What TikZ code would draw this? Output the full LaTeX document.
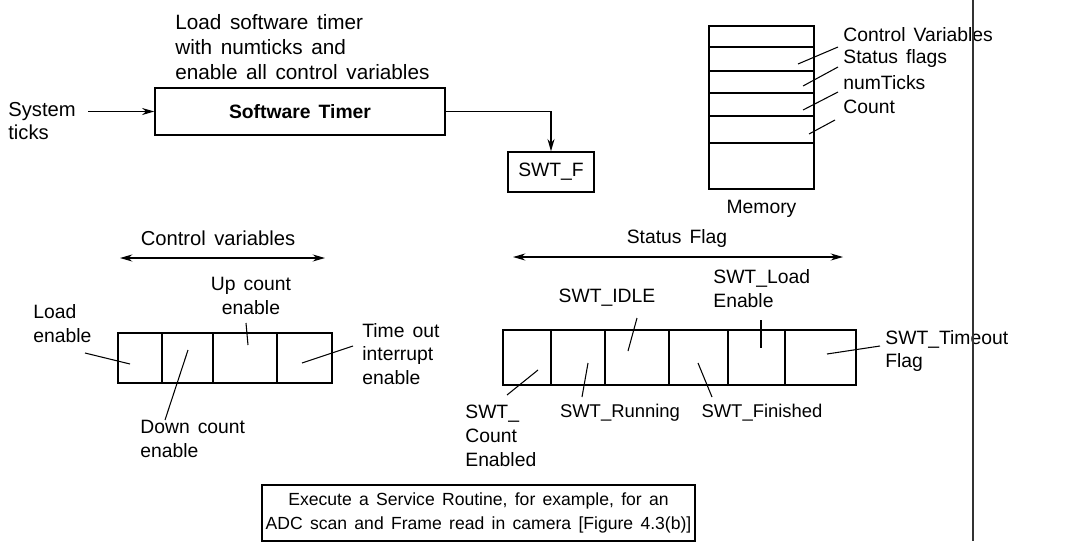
\documentclass[tikz,border=0pt]{standalone}
\usepackage{fontspec}
\setmainfont{Liberation Sans}[WordSpace=1.5]
\usetikzlibrary{arrows.meta, positioning, fit, calc}

\begin{document}
\begin{tikzpicture}[
    x=0.02cm, y=-0.02cm,
    txt/.style={font=\fontsize{11}{13.6}\selectfont, inner sep=0pt},
    lft/.style={txt, align=left, anchor=west},
    ctr/.style={txt, align=center},
    box/.style={draw, line width=0.8pt, inner sep=0pt, font=\fontsize{11}{13.6}\selectfont, align=center},
    cell/.style={draw, line width=0.8pt, inner sep=0pt, fit={#1}},
    lead/.style={line width=0.6pt},
    arr/.style={-{Stealth[length=7pt, width=4pt]}, line width=0.7pt},
    span/.style={{Stealth[length=7pt, width=4pt]}-{Stealth[length=7pt, width=4pt]}, line width=0.7pt},
]
\useasboundingbox (0,0) rectangle (1077,541);

% --- Software timer ---
\node[lft, font=\fontsize{11.8}{14.2}\selectfont] (load) at (175,47) {Load software timer\\with numticks and\\enable all control variables};
\node[box, minimum width=5.8cm, minimum height=0.94cm] (timer) at (300,111.5) {\fontsize{11}{13}\selectfont\bfseries Software Timer};
\node[lft, font=\fontsize{11.5}{12.8}\selectfont] (sys) at (8,121) {System\\ticks};
\coordinate (tickin) at (88,111.5);
\draw[arr] (tickin) -- (timer.west);
\node[box, minimum width=1.72cm, minimum height=0.8cm] (swtf) at (551,172) {SWT\_F};
\draw[arr] (timer.east) -| (swtf.north);

% --- Memory ---
\node[box, minimum width=2.1cm, minimum height=3.26cm] (mem) at (761.5,107.5) {};
\foreach \y in {47,71,93,116,143}
    \draw[line width=0.8pt] (mem.west |- 0,\y) -- (mem.east |- 0,\y);
\node[txt, below=6pt of mem] (memlbl) {Memory};
\node[lft] (mcv) at (843,35) {Control Variables};
\node[lft] (msf) at (843,59) {Status flags};
\node[lft] (mnt) at (843,83) {numTicks};
\node[lft] (mcnt) at (843,107) {Count};

% --- Control variables ---
\node[ctr, font=\fontsize{11.5}{13.6}\selectfont] (cvlbl) at (218,238) {Control variables};
\coordinate (cvl) at (120,258);
\coordinate (cvr) at (325,258);
\draw[span] (cvl) -- (cvr);
\foreach \a/\b/\n in {118/162/cv1, 162/213/cv2, 213/277/cv3, 277/332/cv4}
    \node[cell={(\a,333) (\b,383)}] (\n) {};
\node[lft] (ld) at (33,323.5) {Load\\enable};
\node[ctr] (up) at (251,296) {Up count\\enable};
\node[lft] (tmo) at (362,354) {Time out\\interrupt\\enable};
\node[lft] (dn) at (140,439) {Down count\\enable};

% --- Status flag ---
\node[ctr] (sflbl) at (677,238) {Status Flag};
\coordinate (sfl) at (513,257);
\coordinate (sfr) at (843,257);
\draw[span] (sfl) -- (sfr);
\foreach \a/\b/\n in {503/551/sf1, 551/605/sf2, 605/669/sf3, 669/728/sf4, 728/785/sf5, 785/856/sf6}
    \node[cell={(\a,330) (\b,385)}] (\n) {};
\node[ctr] (idle) at (607,298) {SWT\_IDLE};
\node[lft] (sload) at (713,289) {SWT\_Load\\Enable};
\node[lft] (stmo) at (885,351) {SWT\_Timeout\\Flag};
\node[lft] (scnt) at (465,436) {SWT\_\\Count\\Enabled};
\node[ctr, font=\fontsize{10.5}{13.6}\selectfont] (srun) at (620,413) {SWT\_Running};
\node[ctr, font=\fontsize{10.5}{13.6}\selectfont] (sfin) at (762,413) {SWT\_Finished};

% leader lines: outer end / inner end
\foreach \n/\ox/\oy/\ix/\iy in {
    mcv/838/47/798/64, msf/838/67/803/86, mnt/838/92/803/110, mcnt/835/120/809/134,
    ld/85/353/130/364, up/246/323/248/345, tmo/353/346/302/363, dn/165/420/188/350,
    idle/637/318/628/351, sload/761/320/761/348, stmo/880/346/827/354,
    scnt/507/395/538/370, srun/582/397/588/363, sfin/712/397/698/363} {
    \coordinate (\n-o) at (\ox,\oy);
    \coordinate (\n-i) at (\ix,\iy);
    \draw[lead] (\n-o) -- (\n-i);
}

% --- Service routine ---
\node[box, minimum width=8.66cm, minimum height=1.12cm, font=\fontsize{10}{13.6}\selectfont] (isr) at (478.5,513) {Execute a Service Routine, for example, for an\\ADC scan and Frame read in camera [Figure 4.3(b)]};

% page edge
\coordinate (edgetop) at (973,0);
\coordinate (edgebot) at (973,541);
\draw[line width=1pt, black!80] (edgetop) -- (edgebot);

\end{tikzpicture}
\end{document}
